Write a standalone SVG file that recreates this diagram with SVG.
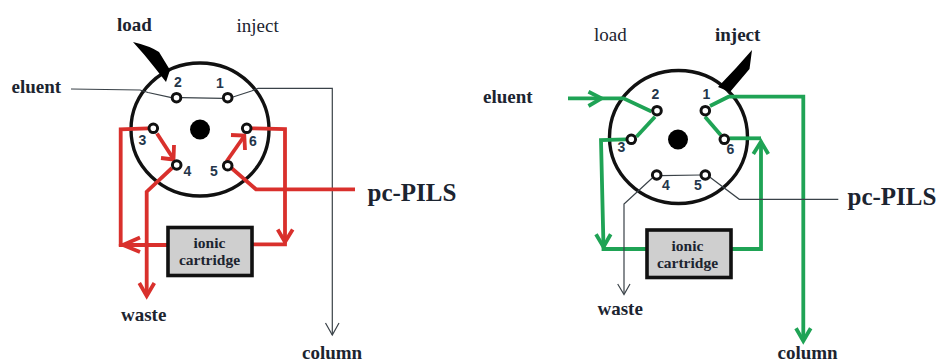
<svg xmlns="http://www.w3.org/2000/svg" width="938" height="363" viewBox="0 0 938 363">
<style>
text{font-family:"Liberation Serif","Times New Roman",serif;fill:#1c2430;font-weight:bold}
.lab{font-size:19px}
.reg{font-weight:normal;font-size:19px}
.num{font-family:"Liberation Sans",Arial,sans-serif;font-size:14px;fill:#24364a;text-anchor:middle}
.big{font-size:25px}
.box{fill:#cfcfcf;stroke:#111;stroke-width:3.6}
.boxt{font-size:15.5px;text-anchor:middle}
.valve{fill:#fff;stroke:#111;stroke-width:3.4}
.port{fill:#fff;stroke:#111;stroke-width:3}
.hub{fill:#000}
path{fill:none;stroke-linejoin:miter}
.r{stroke:#d9302c;stroke-width:3.8}
.g{stroke:#1fa355;stroke-width:3.8}
.k{stroke:#3a4248;stroke-width:1.2}
.handle{fill:#000;stroke:none}
</style>
<g id="valve-load">
<ellipse class="valve" cx="200" cy="129.500" rx="69" ry="66.500"/>
<circle class="hub" cx="200" cy="129.500" r="10"/>
<path class="handle" d="M133 42 Q150 46 159 52 L170 70 L166 82 L155 68 Q145 55 133 42Z"/>
</g>
<g id="valve-inject">
<ellipse class="valve" cx="678.500" cy="137" rx="69" ry="66.500"/>
<circle class="hub" cx="678" cy="139.500" r="10"/>
<path class="handle" d="M752 50 L749.500 69 L730 92 L718 87 L736 68Z"/>
</g>
<g id="connectors">
<path class="k" d="M71 89 L140 90 L148 92.500 L171.500 97.700"/>
<path class="k" d="M182 97.700 L222.500 98.300"/>
<path class="k" d="M233 97 L251.500 91 L258 88.300 L332.300 88.300 L332.300 335"/>
<path class="k" d="M325.500 323 L332.300 335 L339 323"/>
<path class="r" d="M148 128.300 L120.700 129.300 L120.700 245 L167 245"/>
<path class="r" d="M140 237.500 L123 245 L140 252"/>
<path class="r" d="M157 133.500 L173.500 159"/>
<path class="r" d="M161 158 L173.500 159.500 L174 145"/>
<path class="r" d="M172 168 L146.700 191.700 L146.700 295"/>
<path class="r" d="M139.300 283 L146.700 296 L154.300 283"/>
<path class="r" d="M226.500 161.500 L244.300 136"/>
<path class="r" d="M231 135 L244.300 135.500 L245 150"/>
<path class="r" d="M232 168.500 L256 189.300 L355 189.300"/>
<path class="r" d="M251.500 128.300 L285 129 L285 244.300 L253 244.300"/>
<path class="r" d="M277.700 229.500 L285 242 L292.700 229.500"/>
<path class="g" d="M568 98.300 L623.500 98.300 L651.500 111.500"/>
<path class="g" d="M588.500 91.700 L601.500 98.300 L588.500 106"/>
<path class="g" d="M655 116.700 L636.500 136.700"/>
<path class="g" d="M626 139.300 L601 140 L603.500 247 L603.500 249 L646.700 249"/>
<path class="g" d="M596 234.300 L603.500 247 L610.700 234.300"/>
<path class="g" d="M710 106 L728.500 96.700 L803.300 96.700 L803.300 340"/>
<path class="g" d="M796 328.300 L803.300 341 L810.700 328.300"/>
<path class="g" d="M705 116.700 L720.700 135"/>
<path class="g" d="M729.300 138.300 L761 138.300"/>
<path class="g" d="M761 141.700 L761 249 L731.700 249"/>
<path class="g" d="M753.300 154 L761 141.700 L768.300 154"/>
<path class="k" d="M660.700 175.700 L701 175"/>
<path class="k" d="M652 178.300 L624 204 L624 294"/>
<path class="k" d="M617.700 284 L624 294.500 L630 284"/>
<path class="k" d="M710 177.300 L739.300 199.300 L838.300 199.300"/>
</g>
<g id="port-l1"><circle class="port" cx="227.700" cy="97.700" r="4.300"/><text class="num" x="220" y="88">1</text></g>
<g id="port-l2"><circle class="port" cx="176.500" cy="97.700" r="4.300"/><text class="num" x="178" y="87">2</text></g>
<g id="port-l3"><circle class="port" cx="153.300" cy="128.300" r="4.300"/><text class="num" x="142.500" y="145">3</text></g>
<g id="port-l4"><circle class="port" cx="176.700" cy="165" r="4.300"/><text class="num" x="187.500" y="176">4</text></g>
<g id="port-l5"><circle class="port" cx="227.700" cy="165.700" r="4.300"/><text class="num" x="214" y="176">5</text></g>
<g id="port-l6"><circle class="port" cx="246.700" cy="128.300" r="4.300"/><text class="num" x="253" y="146">6</text></g>
<g id="port-r1"><circle class="port" cx="705.300" cy="110.700" r="4.300"/><text class="num" x="706.500" y="99">1</text></g>
<g id="port-r2"><circle class="port" cx="657" cy="110.700" r="4.300"/><text class="num" x="655.500" y="99">2</text></g>
<g id="port-r3"><circle class="port" cx="631.300" cy="139.300" r="4.300"/><text class="num" x="621.500" y="152">3</text></g>
<g id="port-r4"><circle class="port" cx="656.700" cy="175" r="4.300"/><text class="num" x="666" y="190">4</text></g>
<g id="port-r5"><circle class="port" cx="705.300" cy="175" r="4.300"/><text class="num" x="698" y="190">5</text></g>
<g id="port-r6"><circle class="port" cx="724.300" cy="139.300" r="4.300"/><text class="num" x="730.500" y="154">6</text></g>
<g id="cartridge-l"><rect class="box" x="168" y="227.500" width="84" height="48"/><text class="boxt" x="209.500" y="248">ionic</text><text class="boxt" x="209.500" y="265">cartridge</text></g>
<g id="cartridge-r"><rect class="box" x="647" y="230" width="84" height="47.500"/><text class="boxt" x="687.500" y="251">ionic</text><text class="boxt" x="687.500" y="268">cartridge</text></g>
<g id="labels">
<text class="lab" x="117" y="31">load</text>
<text class="reg" x="236.500" y="32">inject</text>
<text class="lab" x="11.500" y="93">eluent</text>
<text class="big" x="367.500" y="201">pc-PILS</text>
<text class="lab" x="121" y="321">waste</text>
<text class="lab" x="302" y="358.500">column</text>
<text class="reg" x="594" y="41">load</text>
<text class="lab" x="715" y="41">inject</text>
<text class="lab" x="483" y="103">eluent</text>
<text class="big" x="847.500" y="205">pc-PILS</text>
<text class="lab" x="597.500" y="315">waste</text>
<text class="lab" x="777.500" y="358.500">column</text>
</g>
</svg>
